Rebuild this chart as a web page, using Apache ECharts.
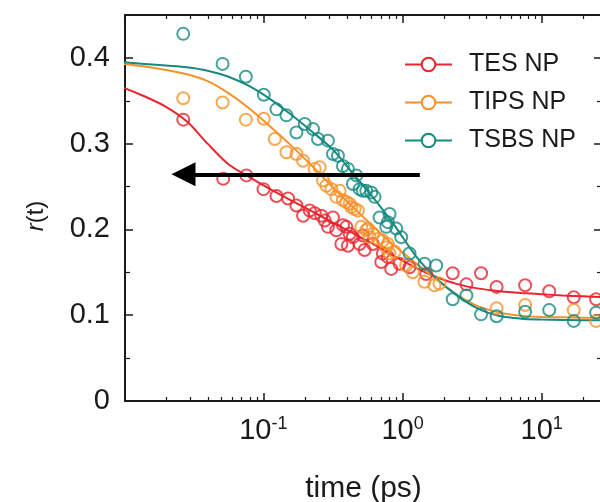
<!DOCTYPE html>
<html>
<head>
<meta charset="utf-8">
<script src="https://cdn.jsdelivr.net/npm/echarts@6/dist/echarts.min.js"></script>
<style>html,body{margin:0;padding:0;background:#fff}#c{width:600px;height:502px}</style>
</head>
<body>
<div id="c"></div>
<script>
// ---- data ----
const seriesNames = ['TES NP', 'TIPS NP', 'TSBS NP'];
const colors = ['#e7262f', '#f5922a', '#168a80'];

const tesData = [
  [0.0266,0.328],[0.0515,0.259],[0.0757,0.263],[0.1003,0.247],[0.1243,0.239],[0.1506,0.236],
  [0.1729,0.228],[0.1929,0.216],[0.2154,0.222],[0.2339,0.219],[0.2614,0.216],[0.276,0.2105],
  [0.2914,0.203],[0.3165,0.214],[0.3348,0.199],[0.3636,0.183],[0.3733,0.205],[0.3948,0.203],
  [0.4054,0.181],[0.417,0.195],[0.44,0.191],[0.4917,0.183],[0.5192,0.193],[0.534,0.176],
  [0.6125,0.183],[0.7036,0.162],[0.7224,0.172],[0.7845,0.168],[0.8299,0.154],[0.9517,0.160],
  [1.1226,0.156],[1.479,0.148],[2.294,0.149],[2.877,0.136],[3.666,0.149],[4.74,0.133],
  [7.6,0.135],[11.32,0.128],[16.98,0.121],[24.6,0.1186]
];
const tipsData = [
  [0.0266,0.353],[0.051,0.348],[0.0749,0.328],[0.1008,0.329],[0.1209,0.3055],[0.1466,0.290],
  [0.1729,0.288],[0.1929,0.280],[0.2339,0.2706],[0.2541,0.2724],[0.2684,0.257],[0.2838,0.251],
  [0.3083,0.247],[0.3348,0.238],[0.3535,0.245],[0.3733,0.234],[0.3948,0.232],[0.417,0.230],
  [0.4288,0.226],[0.4526,0.224],[0.4781,0.222],[0.5056,0.203],[0.5492,0.199],[0.564,0.201],
  [0.58,0.191],[0.6125,0.195],[0.6651,0.189],[0.7224,0.187],[0.7641,0.179],[0.7845,0.183],
  [0.8069,0.172],[0.8764,0.174],[1.063,0.158],[1.185,0.150],[1.438,0.139],[1.696,0.135],
  [1.842,0.137],[4.74,0.108],[7.6,0.112],[16.98,0.106],[24.6,0.0934]
];
const tsbsData = [
  [0.0266,0.428],[0.051,0.393],[0.0749,0.378],[0.1008,0.357],[0.1243,0.340],[0.1466,0.333],
  [0.1729,0.313],[0.1984,0.323],[0.2275,0.317],[0.2471,0.3055],[0.2914,0.3035],[0.3165,0.288],
  [0.3438,0.286],[0.3733,0.274],[0.4054,0.2706],[0.44,0.253],[0.4655,0.263],[0.4917,0.247],
  [0.5192,0.245],[0.5492,0.245],[0.5965,0.243],[0.6299,0.238],[0.6841,0.214],[0.7641,0.203],
  [0.7845,0.2085],[0.8069,0.218],[0.9012,0.201],[0.9788,0.191],[1.1226,0.172],[1.438,0.160],
  [1.745,0.158],[2.294,0.1186],[2.877,0.123],[3.666,0.101],[4.74,0.0988],[7.6,0.104],
  [11.32,0.106],[16.98,0.0934],[24.6,0.103]
];

// fitted curves, sampled every 0.15 decade from 0.01 ps
const fitX = [0.01,0.0141,0.02,0.0282,0.0398,0.0562,0.0794,0.112,0.158,0.224,0.316,0.447,0.631,0.891,1.259,1.778,2.512,3.548,5.012,7.079,10,14.13,19.95,28.18];
const tesFit  = [0.365,0.355,0.343,0.326,0.300,0.276,0.261,0.247,0.234,0.221,0.208,0.195,0.182,0.168,0.155,0.144,0.136,0.131,0.128,0.126,0.1245,0.123,0.122,0.121];
const tipsFit = [0.393,0.390,0.386,0.381,0.373,0.359,0.341,0.320,0.298,0.274,0.249,0.225,0.202,0.180,0.160,0.141,0.123,0.110,0.103,0.0995,0.098,0.0975,0.097,0.097];
const tsbsFit = [0.395,0.393,0.391,0.389,0.385,0.378,0.367,0.352,0.334,0.314,0.293,0.264,0.235,0.203,0.168,0.142,0.122,0.107,0.099,0.096,0.095,0.0945,0.094,0.094];

const xMin = 0.01015, xMax = 27.1;
const yMin = 0, yMax = 0.45, yStep = 0.1;
const xMinorTicks = [0.02,0.03,0.04,0.05,0.06,0.07,0.08,0.09,0.2,0.3,0.4,0.5,0.6,0.7,0.8,0.9,2,3,4,5,6,7,8,9,20];
const yMinorTicks = [0.05,0.15,0.25,0.35];
const arrowFrom = [1.331, 0.2643];
const arrowTo = [0.0267, 0.2643];

// ---- chart ----
const chart = echarts.init(document.getElementById('c'), null, {renderer: 'canvas'});
const font = 'Liberation Sans, Arial, sans-serif';
const ink = '#1a1a1a';
const lg = v => Math.log10(v);

const fits = [tesFit, tipsFit, tsbsFit];
const pts = [tesData, tipsData, tsbsData];
const series = [];
seriesNames.forEach((n, i) => {
  series.push({
    name: n, type: 'line', smooth: 0.3, showSymbol: false, symbol: 'emptyCircle', symbolSize: 14,
    data: fitX.map((x, k) => [x, fits[i][k]]),
    lineStyle: {color: colors[i], width: 2}, itemStyle: {color: colors[i]},
    xAxisIndex: 0, yAxisIndex: 0, z: 2, silent: true
  });
});
seriesNames.forEach((n, i) => {
  series.push({
    name: n + ' data', type: 'scatter', symbol: 'circle', symbolSize: 12,
    data: pts[i],
    itemStyle: {color: 'rgba(0,0,0,0)', borderColor: colors[i], borderWidth: 2},
    xAxisIndex: 0, yAxisIndex: 0, z: 3, silent: true
  });
});
series[0].markLine = {
  silent: true, animation: false,
  symbol: ['none', 'triangle'], symbolSize: 24,
  lineStyle: {color: '#000', width: 4, type: 'solid'},
  label: {show: false},
  data: [[{coord: arrowFrom}, {coord: arrowTo}]],
  z: 10
};

const axisLineStyle = {color: ink, width: 2};

chart.setOption({
  animation: false,
  backgroundColor: '#fff',
  grid: {left: 125, right: -2, top: 15, bottom: 101, containLabel: false, outerBoundsMode: 'none'},
  legend: {
    data: seriesNames, orient: 'vertical', left: 399, top: 47, itemGap: 13,
    itemWidth: 47, itemHeight: 17,
    textStyle: {fontFamily: font, fontSize: 25, color: ink, padding: [0, 0, 0, 12]}
  },
  xAxis: [
    {type: 'log', position: 'bottom', min: xMin, max: xMax, logBase: 10,
     axisLine: {show: true, onZero: false, lineStyle: axisLineStyle},
     axisTick: {show: true, inside: true, length: 8, lineStyle: {color: ink, width: 1.5}},
     minorTick: {show: false}, splitLine: {show: false},
     axisLabel: {show: true, margin: 14, showMinLabel: false, showMaxLabel: false,
       formatter: v => '{b|10}{s|' + Math.round(Math.log10(v)) + '}',
       rich: {b: {fontFamily: font, fontSize: 29, color: ink, lineHeight: 32},
              s: {fontFamily: font, fontSize: 18, color: ink, verticalAlign: 'top', lineHeight: 18}}},
     name: 'time (ps)', nameLocation: 'middle', nameGap: 73,
     nameTextStyle: {fontFamily: font, fontSize: 30, color: ink}},
    {type: 'value', position: 'bottom', min: lg(xMin), max: lg(xMax),
     axisLine: {show: false, onZero: false}, splitLine: {show: false}, axisLabel: {show: false},
     axisTick: {show: true, inside: true, length: 4, customValues: xMinorTicks.map(lg), lineStyle: {color: ink, width: 1.2}}},
    {type: 'log', position: 'top', min: xMin, max: xMax, logBase: 10,
     axisLine: {show: true, onZero: false, lineStyle: axisLineStyle},
     axisTick: {show: true, inside: true, length: 8, lineStyle: {color: ink, width: 1.5}},
     splitLine: {show: false}, axisLabel: {show: false}},
    {type: 'value', position: 'top', min: lg(xMin), max: lg(xMax),
     axisLine: {show: false, onZero: false}, splitLine: {show: false}, axisLabel: {show: false},
     axisTick: {show: true, inside: true, length: 4, customValues: xMinorTicks.map(lg), lineStyle: {color: ink, width: 1.2}}}
  ],
  yAxis: [
    {type: 'value', position: 'left', min: yMin, max: yMax, interval: yStep,
     axisLine: {show: true, onZero: false, lineStyle: axisLineStyle},
     axisTick: {show: true, inside: true, length: 8, lineStyle: {color: ink, width: 1.5}},
     splitLine: {show: false},
     axisLabel: {show: true, margin: 15, showMaxLabel: false, fontFamily: font, fontSize: 29, color: ink},
     name: '{i|r}(t)', nameLocation: 'middle', nameGap: 77, nameRotate: 90,
     nameTextStyle: {fontFamily: font, fontSize: 24, color: ink, padding: [0, 16, 0, 0],
       rich: {i: {fontFamily: font, fontSize: 24, fontStyle: 'italic', color: ink}}}},
    {type: 'value', position: 'left', min: yMin, max: yMax,
     axisLine: {show: false, onZero: false}, splitLine: {show: false}, axisLabel: {show: false},
     axisTick: {show: true, inside: true, length: 5, customValues: yMinorTicks, lineStyle: {color: ink, width: 1.2}}},
    {type: 'value', position: 'right', min: yMin, max: yMax, interval: yStep,
     axisLine: {show: true, onZero: false, lineStyle: axisLineStyle},
     axisTick: {show: true, inside: true, length: 8, lineStyle: {color: ink, width: 1.5}},
     splitLine: {show: false}, axisLabel: {show: false}},
    {type: 'value', position: 'right', min: yMin, max: yMax,
     axisLine: {show: false, onZero: false}, splitLine: {show: false}, axisLabel: {show: false},
     axisTick: {show: true, inside: true, length: 5, customValues: yMinorTicks, lineStyle: {color: ink, width: 1.2}}}
  ],
  series: series
});
</script>
</body>
</html>
